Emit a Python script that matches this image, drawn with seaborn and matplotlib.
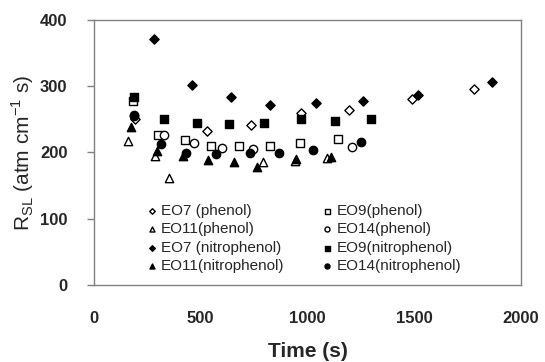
import pandas as pd
import seaborn as sns
import matplotlib.pyplot as plt

# (time in s, R_SL in atm cm-1 s)
eo7_phenol_t = [190, 529, 737, 970, 1193, 1488, 1781]
eo7_phenol_r = [250, 232, 242, 259, 264, 281, 295]

eo11_phenol_t = [157, 285, 349, 792, 940, 1092]
eo11_phenol_r = [217, 195, 162, 185, 187, 191]

eo7_nitro_t = [283, 459, 642, 822, 1038, 1258, 1518, 1862]
eo7_nitro_r = [371, 301, 283, 271, 274, 278, 286, 307]

eo11_nitro_t = [172, 294, 416, 532, 657, 764, 945, 1108]
eo11_nitro_r = [239, 202, 194, 188, 185, 178, 190, 193]

eo9_phenol_t = [182, 299, 426, 548, 681, 822, 967, 1141]
eo9_phenol_r = [277, 227, 218, 210, 209, 210, 214, 220]

eo14_phenol_t = [185, 326, 468, 600, 743, 1207]
eo14_phenol_r = [255, 226, 214, 206, 205, 208]

eo9_nitro_t = [185, 327, 482, 634, 795, 970, 1127, 1296]
eo9_nitro_r = [283, 251, 245, 243, 245, 250, 248, 250]

eo14_nitro_t = [185, 313, 433, 570, 729, 865, 1025, 1249]
eo14_nitro_r = [257, 213, 199, 197, 199, 199, 203, 215]

# label, times, values, marker, filled
series = [
    ("EO7 (phenol)", eo7_phenol_t, eo7_phenol_r, "D", False),
    ("EO11(phenol)", eo11_phenol_t, eo11_phenol_r, "^", False),
    ("EO7 (nitrophenol)", eo7_nitro_t, eo7_nitro_r, "D", True),
    ("EO11(nitrophenol)", eo11_nitro_t, eo11_nitro_r, "^", True),
    ("EO9(phenol)", eo9_phenol_t, eo9_phenol_r, "s", False),
    ("EO14(phenol)", eo14_phenol_t, eo14_phenol_r, "o", False),
    ("EO9(nitrophenol)", eo9_nitro_t, eo9_nitro_r, "s", True),
    ("EO14(nitrophenol)", eo14_nitro_t, eo14_nitro_r, "o", True),
]

sns.set_style("white")
plt.rcParams['font.family'] = ['Liberation Sans', 'DejaVu Sans']

fig = plt.figure(figsize=(5.45, 3.62), dpi=100)
ax = fig.add_axes([0.1725, 0.213, 0.7835, 0.732])

for label, t, r, mk, filled in series:
    df = pd.DataFrame({"Time": t, "RSL": r})
    size = 22 if mk == "D" else 36
    sns.scatterplot(data=df, x="Time", y="RSL", ax=ax, marker=mk, s=size,
                    facecolor="black" if filled else "white",
                    edgecolor="black", linewidth=1.0, label=label)

ax.set_xlim(0, 2000)
ax.set_ylim(0, 400)
ax.set_xticks([0, 500, 1000, 1500, 2000])
ax.set_yticks([0, 100, 200, 300, 400])

for sp in ax.spines.values():
    sp.set_color("#808080")
    sp.set_linewidth(1.0)

ax.tick_params(axis='x', length=0, pad=19, labelsize=12)
ax.tick_params(axis='y', left=True, length=5, width=1, color="#808080",
               direction='out', pad=14, labelsize=12)
for lab in ax.get_xticklabels() + ax.get_yticklabels():
    lab.set_fontweight("bold")

ax.set_xlabel("Time (s)", fontsize=15, fontweight="bold", labelpad=11)
ax.set_ylabel(r"R$_{\mathregular{SL}}$ (atm cm$^{\mathregular{-1}}$ s)",
              fontsize=15, labelpad=3)

leg = ax.legend(ncol=2, frameon=False, loc="lower left",
                bbox_to_anchor=(0.1, 0.005), fontsize=11,
                markerscale=0.6, handlelength=0.6, handletextpad=0.3,
                columnspacing=2.5, labelspacing=0.28, borderpad=0.2)

fig.savefig("out.png", dpi=100)
